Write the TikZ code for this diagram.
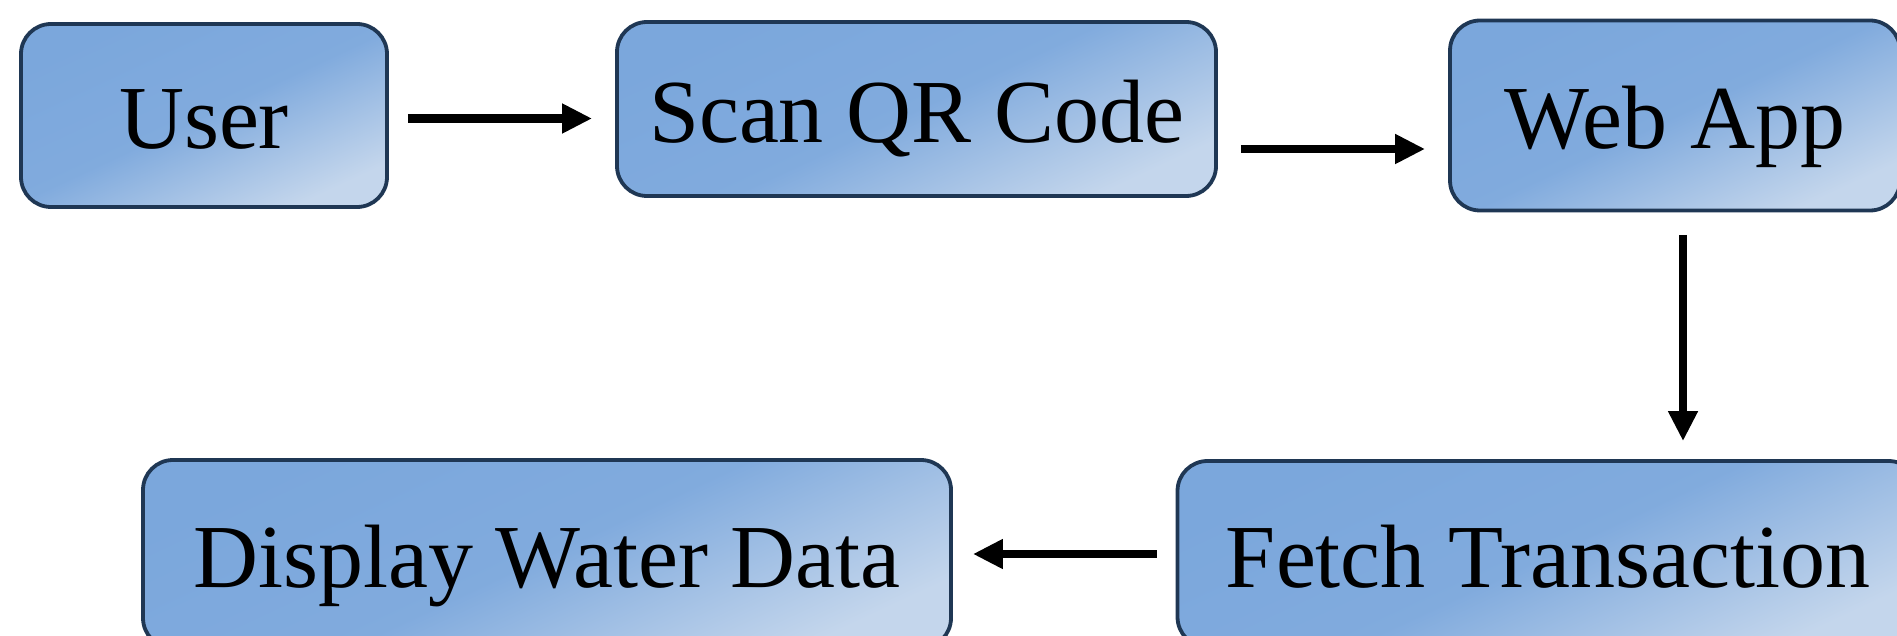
\documentclass[tikz,border=0pt]{standalone}
\usepackage{fontspec}
\setmainfont{Liberation Serif}
\usetikzlibrary{arrows.meta,calc}
\definecolor{boxdark}{HTML}{7BA7DC}
\definecolor{boxlight}{HTML}{C4D6EC}
\definecolor{boxline}{HTML}{1F3754}
\begin{document}
\begin{tikzpicture}[x=1pt,y=-1pt,
  flow/.style={draw=boxline, line width=3.8pt, rounded corners=30pt,
    top color=boxdark, bottom color=boxlight, middle color=boxdark!92!boxlight,
    shading angle=25, font=\fontsize{90}{100}\selectfont, inner sep=0pt, text=black,
    text height=67pt, text depth=0pt},
  arr/.style={line width=8.5pt, -{Triangle[length=30pt,width=28pt]}}]
\useasboundingbox (0,0) rectangle (1897,636);
\node[flow, minimum width=366pt, minimum height=183pt] (user) at (204,115.5) {User};
\node[flow, minimum width=599pt, minimum height=174pt] (scan) at (916.5,109) {Scan QR Code};
\node[flow, minimum width=450pt, minimum height=190pt] (web) at (1675,115.5) {Web App};
\node[flow, minimum width=741pt, minimum height=186pt] (fetch) at (1548,554) {Fetch Transaction};
\node[flow, minimum width=808pt, minimum height=188pt] (disp) at (547,554) {Display Water Data};
\draw[arr] ($(user.east)+(19,3)$) -- ($(scan.west)+(-23,9.5)$);
\draw[arr] ($(scan.east)+(23,40)$) -- ($(web.west)+(-23,33.5)$);
\draw[arr] ($(web.south)+(8,22.5)$) -- ($(web.south |- fetch.north)+(8,-18)$);
\draw[arr] ($(fetch.west)+(-19,0)$) -- ($(disp.east)+(20,0)$);
\end{tikzpicture}
\end{document}
